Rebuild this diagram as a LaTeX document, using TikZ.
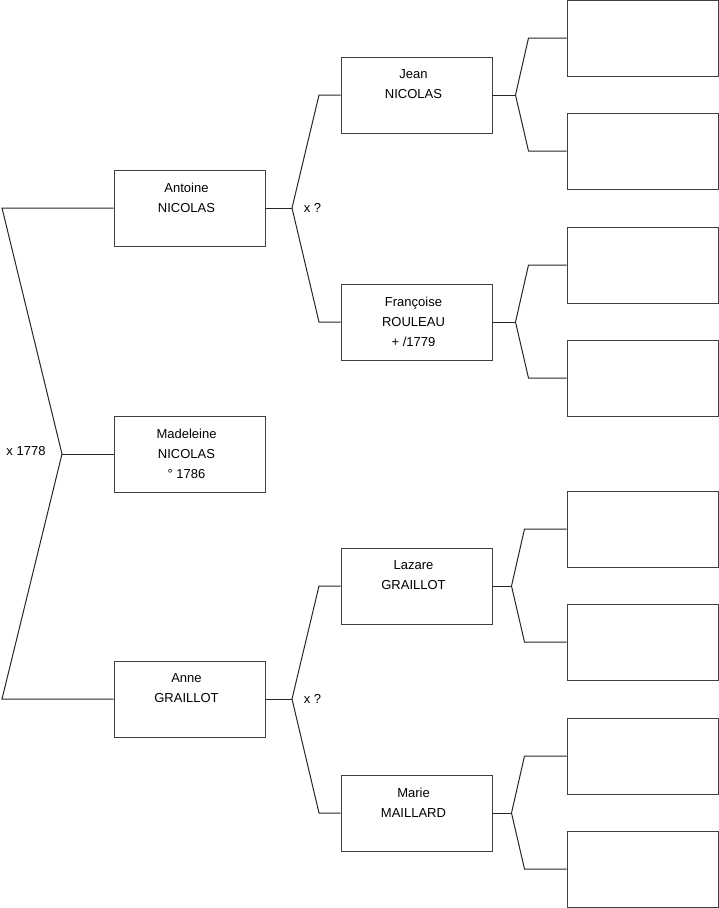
\documentclass[tikz,border=0pt]{standalone}
\usepackage{fontspec}
\setmainfont{Liberation Sans}
\tikzset{
  person/.style={draw=black!75, line width=1pt, minimum width=151pt, minimum height=76pt, inner sep=0pt},
  who/.style={anchor=north, inner sep=0pt, xshift=-3pt, yshift=-13pt, align=center, font=\fontsize{13}{20}\selectfont},
  link/.style={draw=black!85, line width=1pt},
  union/.style={font=\fontsize{13}{16}\selectfont, inner sep=0pt}
}
\begin{document}
\begin{tikzpicture}[x=1pt, y=-1pt]
  \useasboundingbox (0,0) rectangle (719,908);
  % generation 1 and 2
  \node[person, label={[who]north:{Madeleine\\NICOLAS\\° 1786}}] (madeleine) at (189.5,454) {};
  \node[person, label={[who]north:{Antoine\\NICOLAS}}] (antoine) at (189.5,208) {};
  \node[person, label={[who]north:{Anne\\GRAILLOT}}] (anne) at (189.5,699) {};
  % generation 3
  \node[person, label={[who]north:{Jean\\NICOLAS}}] (jean) at (416.5,95) {};
  \node[person, label={[who]north:{Françoise\\ROULEAU\\+ /1779}}] (francoise) at (416.5,322) {};
  \node[person, label={[who]north:{Lazare\\GRAILLOT}}] (lazare) at (416.5,586) {};
  \node[person, label={[who]north:{Marie\\MAILLARD}}] (marie) at (416.5,813) {};
  % generation 4, empty
  \foreach \i/\y in {1/38,2/151,3/265,4/378,5/529,6/642,7/756,8/869}
    \node[person] (g\i) at (642.5,\y) {};

  \coordinate (f1) at (62,454);
  \coordinate (c1) at (2,454);
  \draw[link] (antoine.west) -- (antoine.west -| c1) -- (f1) -- (anne.west -| c1) -- (anne.west);
  \draw[link] (madeleine.west) -- (f1);
  \node[union] (m1) at (26,451) {x 1778};

  \coordinate (f2) at (292,208);
  \coordinate (c2) at (319,208);
  \draw[link] (jean.west) -- (jean.west -| c2) -- (f2) -- (francoise.west -| c2) -- (francoise.west);
  \draw[link] (antoine.east) -- (f2);
  \node[union] (m2) at (312.5,208) {x ?};

  \coordinate (f3) at (292,699);
  \coordinate (c3) at (319,699);
  \draw[link] (lazare.west) -- (lazare.west -| c3) -- (f3) -- (marie.west -| c3) -- (marie.west);
  \draw[link] (anne.east) -- (f3);
  \node[union] (m3) at (312.5,699) {x ?};

  \foreach \p/\a/\b/\d/\e in {jean/g1/g2/23/38, francoise/g3/g4/23/38, lazare/g5/g6/19/42, marie/g7/g8/19/42}{
    \coordinate (fk) at ([xshift=\d]\p.east);
    \draw[link] (\p.east) -- (fk);
    \draw[link] (\a.west) -- ++(-\e,0) -- (fk) -- ([xshift=-\e]\b.west) -- (\b.west);
  }
\end{tikzpicture}
\end{document}
